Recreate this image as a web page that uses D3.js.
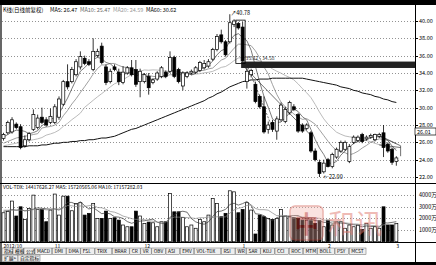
<!DOCTYPE html>
<html>
<head>
<meta charset="utf-8">
<script src="https://cdn.jsdelivr.net/npm/d3@7"></script>
<style>
  html, body { margin: 0; padding: 0; background: #fff; }
  svg { display: block; }
  text { font-family: "Noto Sans CJK SC", "DejaVu Sans", sans-serif; }
</style>
</head>
<body>
<svg id="chart" width="436" height="265"></svg>
<script>
// ---- daily bars (前复权) ----
const opens  = [26.45,27.1,27.2,28.1,27.8,25.6,26.3,27.5,27.7,28.9,28.6,28.3,28.3,28.9,30.4,33.0,33.0,33.8,34.7,35.7,35.3,34.4,36.0,37.1,34.7,33.0,34.7,34.1,32.9,34.0,34.6,34.4,33.0,33.0,33.6,32.9,33.3,33.6,34.1,34.2,35.8,34.4,32.5,33.6,34.0,34.1,34.3,34.6,34.8,35.6,36.7,38.4,37.6,37.6,39.6,39.7,39.3,33.0,33.8,32.7,31.3,30.1,27.5,28.3,27.3,28.6,28.4,29.4,30.1,29.2,28.0,27.6,27.1,25.0,23.7,22.6,24.0,23.2,24.3,25.0,25.2,23.8,26.0,26.2,26.9,26.4,26.6,26.3,26.7,27.1,25.8,25.2,23.8];
const highs  = [27.1,28.5,28.9,28.3,28.1,26.8,27.2,29.8,29.2,30.0,28.9,29.9,30.4,31.3,33.2,35.0,34.7,35.6,36.5,36.0,35.6,38.0,36.8,37.5,35.0,34.5,35.0,34.5,34.8,34.8,35.5,35.5,34.5,34.0,34.0,33.4,34.2,34.8,34.3,36.5,36.0,34.6,34.2,34.2,34.4,34.8,35.4,35.5,35.6,36.9,38.5,39.0,37.8,40.78,40.2,39.9,39.9,34.58,34.5,33.0,31.5,31.3,28.4,28.6,29.0,30.6,30.1,30.8,30.4,29.4,28.2,28.2,27.3,25.3,24.0,24.0,24.2,24.8,25.4,26.2,26.2,25.8,26.8,26.8,27.1,26.8,27.0,27.0,27.1,28.0,26.0,25.4,24.4];
const lows   = [26.2,26.9,27.0,27.5,25.2,25.4,26.1,27.3,27.5,28.1,27.8,28.1,28.1,28.6,30.2,32.1,32.8,33.6,34.4,34.9,34.8,34.2,35.8,35.0,32.6,32.8,34.2,32.6,32.7,33.8,33.6,32.4,31.2,32.8,31.5,32.7,33.1,33.4,33.4,34.0,33.4,32.8,32.0,33.4,33.8,33.9,34.1,34.4,34.6,35.4,36.5,37.4,35.9,37.4,39.3,39.0,35.3,32.2,33.5,30.5,29.9,27.0,27.0,27.2,26.3,28.4,28.2,29.2,29.6,27.1,27.1,27.4,24.8,23.8,22.0,22.4,23.1,23.0,24.1,24.8,25.0,23.6,25.8,26.0,25.9,26.2,26.4,26.1,26.5,24.3,24.8,23.4,23.3];
const closes = [26.9,28.3,28.6,27.7,25.4,26.3,27.0,29.2,28.8,28.3,28.0,29.0,30.1,31.0,33.0,32.4,34.4,35.3,35.9,35.1,35.0,36.5,36.5,35.2,32.9,34.2,34.4,33.0,34.1,34.6,33.8,32.7,34.2,33.8,32.3,33.2,34.0,34.6,33.6,35.8,33.6,33.0,34.0,34.0,34.2,34.6,35.2,35.1,35.3,36.7,38.2,37.6,36.1,39.8,40.0,39.2,35.4,34.2,34.3,30.7,30.1,27.2,28.0,27.5,28.7,30.3,29.8,30.6,29.8,27.3,27.3,28.0,25.0,24.0,22.4,23.6,23.2,24.6,25.2,26.0,26.0,25.5,26.6,26.6,26.1,26.6,26.8,26.9,26.9,25.4,25.0,23.7,24.2];

// moving averages of the close
const ma5  = [26.6,26.9,27.2,27.4,27.38,27.26,27.0,27.12,27.34,27.92,28.26,28.66,28.84,29.28,30.22,31.1,32.18,33.22,34.2,34.62,35.14,35.56,35.8,35.66,35.22,35.06,34.64,33.94,33.72,34.06,33.98,33.64,33.88,33.82,33.36,33.24,33.5,33.58,33.54,34.24,34.32,34.12,34.0,34.08,33.76,33.96,34.4,34.62,34.88,35.38,36.1,36.58,36.78,37.68,38.34,38.54,38.1,37.72,36.62,34.76,32.94,31.3,30.06,28.7,28.3,28.34,28.86,29.38,29.84,29.56,28.96,28.6,27.48,26.32,25.34,24.6,23.64,23.56,23.8,24.52,25.0,25.46,25.86,26.14,26.16,26.28,26.54,26.6,26.66,26.52,26.2,25.58,25.04];
const ma10 = [25.9,26.1,26.3,26.5,26.6,26.7,26.8,26.9,27.0,27.65,27.76,27.83,27.98,28.31,29.07,29.68,30.42,31.03,31.74,32.42,33.12,33.87,34.51,34.93,34.92,35.1,35.1,34.87,34.69,34.64,34.52,34.14,33.91,33.77,33.71,33.61,33.57,33.73,33.68,33.8,33.78,33.81,33.79,33.81,34.0,34.14,34.26,34.31,34.48,34.57,35.03,35.49,35.7,36.28,36.86,37.32,37.34,37.25,37.15,36.55,35.74,34.7,33.89,32.66,31.53,30.64,30.08,29.72,29.27,28.93,28.65,28.73,28.43,28.08,27.45,26.78,26.12,25.52,25.06,24.93,24.8,24.55,24.71,24.97,25.34,25.64,26.0,26.23,26.4,26.34,26.24,26.06,25.82];
const ma20 = [25.6,25.7,25.8,25.9,26.0,26.1,26.2,26.3,26.4,26.55,26.83,26.97,27.14,27.41,27.84,28.19,28.61,28.97,29.37,30.04,30.44,30.85,31.25,31.62,32.0,32.39,32.76,32.95,33.22,33.53,33.82,34.0,34.21,34.35,34.32,34.36,34.34,34.3,34.19,34.22,34.15,33.98,33.85,33.79,33.86,33.88,33.92,34.02,34.08,34.19,34.41,34.65,34.75,35.05,35.43,35.73,35.8,35.78,35.82,35.56,35.39,35.1,34.8,34.47,34.2,33.98,33.71,33.49,33.21,32.74,32.2,31.72,31.16,30.37,29.49,28.71,28.1,27.62,27.17,26.93,26.73,26.64,26.57,26.53,26.4,26.21,26.06,25.88,25.73,25.64,25.52,25.31,25.27];
const ma60 = [25.5,25.5,25.5,25.5,25.5,25.5,25.6,25.6,25.6,25.7,25.7,25.8,25.9,25.9,26.0,26.0,26.1,26.1,26.2,26.2,26.3,26.3,26.4,26.5,26.5,26.6,26.7,26.9,27.1,27.3,27.5,27.6,27.8,28.0,28.2,28.4,28.6,28.8,29.0,29.2,29.4,29.6,29.8,30.0,30.2,30.4,30.6,30.8,31.1,31.3,31.6,31.8,32.1,32.4,32.6,32.8,33.0,33.1,33.2,33.2,33.3,33.3,33.3,33.4,33.4,33.4,33.4,33.4,33.4,33.4,33.4,33.3,33.2,33.1,33.0,32.9,32.8,32.7,32.6,32.4,32.3,32.2,32.0,31.9,31.7,31.6,31.5,31.3,31.2,31.0,30.9,30.7,30.6];

// turnover (万手 ×10)
const volumes = [2480,2600,3480,2200,2990,1910,2850,3990,2770,2770,1710,2710,4080,2280,3900,3900,2650,3280,3340,2280,2430,3280,2000,2000,2620,2000,2050,1850,1430,1280,1280,2620,2200,1570,1680,1620,1280,1710,1710,4140,2560,2560,2080,1280,1430,1150,1910,1710,2280,3710,3280,2140,2430,4360,4270,2480,2770,3340,2710,660,2280,2140,2000,1910,2000,2770,2200,2140,2080,2000,1850,1850,1800,1570,1800,1280,1850,1430,1710,1710,1150,1430,1280,1430,1060,1570,1150,1280,1150,2990,1430,1430,1570];
const volMa5  = [2600,2650,2750,2700,2750,2636,2686,2788,2902,2858,2818,2790,2808,2710,2936,3374,3362,3202,3414,3090,2796,2922,2666,2398,2466,2380,2134,2104,1990,1722,1578,1692,1762,1790,1870,1938,1670,1572,1600,2092,2280,2536,2610,2524,1982,1700,1570,1496,1696,2152,2578,2624,2768,3184,3296,3136,3262,3444,3114,2392,2352,2226,1958,1798,2066,2164,2176,2204,2238,2238,2054,1984,1916,1814,1774,1660,1660,1586,1614,1596,1570,1486,1456,1400,1270,1354,1298,1298,1242,1628,1600,1656,1714];
const volMa10 = [2700,2700,2700,2700,2700,2668,2693,2744,2801,2804,2727,2738,2798,2806,2897,3096,3076,3005,3062,3013,3085,3142,2934,2906,2778,2588,2528,2385,2194,2094,1979,1913,1933,1890,1796,1758,1681,1667,1695,1981,2109,2103,2091,2062,2037,1990,2053,2053,2110,2067,2139,2097,2132,2440,2724,2857,2943,3106,3149,2844,2744,2744,2701,2456,2229,2258,2201,2081,2018,2152,2109,2080,2060,2026,2006,1857,1822,1751,1714,1685,1615,1573,1521,1507,1433,1462,1392,1377,1321,1449,1477,1477,1506];

// axis ticks
const priceTicks  = [40,38,36,34,32,30,28,26,24,22];
const volumeTicks = [4000,3000,2000,1000];
const monthTicks  = [{i:0,label:"2012/10"},{i:12,label:"11"},{i:33,label:"12"},{i:56,label:"1"},{i:76,label:"2"},{i:92,label:"3"}];

// chart markup
const peakIndex = 53, lowIndex = 74;
const gapBand = {from:56, hi:35.32, lo:34.58};
const boxMark = {from:55, to:56, hi:40.1, lo:35.1};
// hand-drawn trend lines: [startIndex, startPrice, endIndex, endPrice, dashed]
const trendLines = [[57, 35.0, 63, 27.6, true], [56, 34.9, 72, 26.8, false],
                    [88, 26.8, 93, 25.6, false], [88, 25.7, 93, 25.4, false], [93, 25.6, 93, 24.4, false]];
const toolButtons = ["指标","模板","公式","MACD","DMI","DMA","FSL","TRIX","BRAR","CR","VR","OBV","ASI","EMV","VOL-TDX","RSI","WR","SAR","KDJ","CCI","ROC","MTM","BOLL","PSY","MCST"];
const watermark = "和讯";

const svg = d3.select("#chart");
const W = 436, H = 265;
const left = 2, axisX = 415;

const n = closes.length;
// bar index -> centre x (linear so trend lines may run past the last bar)
const xc = d3.scaleLinear().domain([0, n - 1]).range([3.5, 3.5 + 4.27 * (n - 1)]);
const bw = 3;
const cx = i => xc(i);
const bx0 = i => xc(i) - bw / 2;
const y = d3.scaleLinear().domain([22, 40]).range([177, 21]);
const yv = d3.scaleLinear().domain([0, 4000]).range([241.7, 195]);

// frame
svg.append("rect").attr("x",0).attr("y",0).attr("width",W).attr("height",5).attr("fill","#000");
svg.append("rect").attr("x",0).attr("y",262).attr("width",W).attr("height",3).attr("fill","#000");
svg.append("line").attr("x1",1).attr("x2",1).attr("y1",5).attr("y2",262).attr("stroke","#000").attr("stroke-width",1.2);
svg.append("line").attr("x1",axisX+0.5).attr("x2",axisX+0.5).attr("y1",5).attr("y2",262).attr("stroke","#000");
svg.append("line").attr("x1",0).attr("x2",W).attr("y1",183.5).attr("y2",183.5).attr("stroke","#000");
svg.append("line").attr("x1",0).attr("x2",W).attr("y1",242.5).attr("y2",242.5).attr("stroke","#000");

// price grid + right axis
const grid = svg.append("g");
priceTicks.forEach(t => {
  grid.append("line").attr("x1",left).attr("x2",axisX).attr("y1",Math.round(y(t))+0.5).attr("y2",Math.round(y(t))+0.5)
    .attr("stroke","#777").attr("stroke-dasharray","1,2").attr("stroke-width",0.8);
  grid.append("line").attr("x1",axisX).attr("x2",axisX+3).attr("y1",Math.round(y(t))+0.5).attr("y2",Math.round(y(t))+0.5).attr("stroke","#000");
  grid.append("text").attr("x",419).attr("y",y(t)+2).attr("font-size",5.5).attr("fill","#000").text(t.toFixed(2));
});
volumeTicks.forEach(t => {
  grid.append("line").attr("x1",left).attr("x2",axisX).attr("y1",Math.round(yv(t))+0.5).attr("y2",Math.round(yv(t))+0.5)
    .attr("stroke","#777").attr("stroke-dasharray","1,2").attr("stroke-width",0.8);
  grid.append("text").attr("x",419).attr("y",yv(t)+2).attr("font-size",5.5).attr("fill","#000").text(t + "万");
});

// moving-average lines
const line = arr => d3.line().x((d,i) => cx(i)).y(d => y(d))(arr);
svg.append("path").attr("d", line(ma20)).attr("fill","none").attr("stroke","#aaa").attr("stroke-width",0.8);
svg.append("path").attr("d", line(ma10)).attr("fill","none").attr("stroke","#888").attr("stroke-width",0.8);
svg.append("path").attr("d", line(ma5)).attr("fill","none").attr("stroke","#444").attr("stroke-width",0.7);
svg.append("path").attr("d", line(ma60)).attr("fill","none").attr("stroke","#111").attr("stroke-width",1);

// trend lines
trendLines.forEach(([i0,p0,i1,p1,dashed]) => {
  svg.append("line").attr("x1",cx(i0)).attr("y1",y(p0)).attr("x2",cx(i1)).attr("y2",y(p1))
    .attr("stroke","#333").attr("stroke-width",0.7).attr("stroke-dasharray", dashed ? "2,1.5" : null);
});

// gap band and marker box
svg.append("rect").attr("x", bx0(gapBand.from)).attr("width", axisX - bx0(gapBand.from))
  .attr("y", y(gapBand.hi)).attr("height", y(gapBand.lo) - y(gapBand.hi)).attr("fill","#222");
svg.append("text").attr("x", cx(gapBand.from)+3).attr("y", y(gapBand.hi)-1.5).attr("font-size",5).attr("fill","#333")
  .text(gapBand.hi.toFixed(2) + " - " + gapBand.lo.toFixed(2));
svg.append("rect").attr("x", bx0(boxMark.from)-1).attr("width", bx0(boxMark.to)+bw+1 - bx0(boxMark.from)+1)
  .attr("y", y(boxMark.hi)).attr("height", y(boxMark.lo)-y(boxMark.hi)).attr("fill","none").attr("stroke","#000").attr("stroke-width",0.8);

// candles
const candles = svg.append("g");
d3.range(n).forEach(i => {
  const up = closes[i] >= opens[i];
  candles.append("line").attr("x1",cx(i)).attr("x2",cx(i))
    .attr("y1",y(highs[i])).attr("y2",y(lows[i])).attr("stroke","#000").attr("stroke-width",0.8);
  const top = y(Math.max(opens[i],closes[i])), bot = y(Math.min(opens[i],closes[i]));
  candles.append("rect").attr("x",bx0(i)).attr("width",bw).attr("y",top).attr("height",Math.max(0.8,bot-top))
    .attr("fill", up ? "#fff" : "#000").attr("stroke","#000").attr("stroke-width",0.7);
});

// peak / low annotations
svg.append("text").attr("x", cx(peakIndex)+1).attr("y", y(highs[peakIndex])+1).attr("font-size",5.5).attr("fill","#000")
  .text("↗" + highs[peakIndex].toFixed(2));
svg.append("text").attr("x", cx(lowIndex)+4).attr("y", y(lows[lowIndex])+2).attr("font-size",5.5).attr("fill","#000")
  .text("←" + lows[lowIndex].toFixed(2));

// last price tag
svg.append("rect").attr("x",axisX).attr("y",128).attr("width",21).attr("height",7).attr("fill","#fff").attr("stroke","#000").attr("stroke-width",0.7);
svg.append("text").attr("x",417).attr("y",133.5).attr("font-size",5.5).text("26.01");

// volume bars
const vol = svg.append("g");
d3.range(n).forEach(i => {
  const up = closes[i] >= opens[i];
  vol.append("rect").attr("x",bx0(i)).attr("width",bw).attr("y",yv(volumes[i])).attr("height",yv(0)-yv(volumes[i]))
    .attr("fill", up ? "#fff" : "#000").attr("stroke","#000").attr("stroke-width",0.7);
});
const vline = arr => d3.line().x((d,i) => cx(i)).y(d => yv(d))(arr);
svg.append("path").attr("d", vline(volMa5)).attr("fill","none").attr("stroke","#333").attr("stroke-width",0.7);
svg.append("path").attr("d", vline(volMa10)).attr("fill","none").attr("stroke","#888").attr("stroke-width",0.7);

// site logo laid over the volume pane
const wm = svg.append("g").attr("opacity",0.5);
wm.append("rect").attr("x",290).attr("y",206).attr("width",33).attr("height",34).attr("rx",5)
  .attr("fill","#f2b2aa").attr("fill-opacity",0.7).attr("stroke","#d86a60").attr("stroke-width",1.5);
wm.append("text").attr("x",306.5).attr("y",233).attr("text-anchor","middle").attr("font-size",24).attr("font-weight","bold").attr("fill","#b8302a").text("中");
wm.append("text").attr("x",328).attr("y",234).attr("font-size",27).attr("fill","#e07a70").text(watermark);

// headers
svg.append("text").attr("x",3).attr("y",12).attr("font-size",5.5).attr("fill","#000").text("K线(日线前复权)");
svg.append("text").attr("x",50).attr("y",12).attr("font-size",5.5).attr("fill","#000").text("MA5: 26.47");
svg.append("text").attr("x",80).attr("y",12).attr("font-size",5.5).attr("fill","#666").text("MA10: 25.47");
svg.append("text").attr("x",113).attr("y",12).attr("font-size",5.5).attr("fill","#999").text("MA20: 24.59");
svg.append("text").attr("x",146).attr("y",12).attr("font-size",5.5).attr("fill","#000").text("MA60: 30.62");
svg.append("text").attr("x",3).attr("y",188.5).attr("font-size",5).attr("fill","#000").text("VOL-TDX: 14417626.27  MA5: 15720565.06  MA10: 17157282.03");

// time axis
monthTicks.forEach(m => {
  svg.append("text").attr("x", cx(m.i)).attr("y", 247.5).attr("font-size",5).attr("fill","#000").text(m.label);
});

// tool buttons
let bx = 2;
toolButtons.forEach(b => {
  const w = b.length * 3.2 + 4;
  svg.append("rect").attr("x",bx).attr("y",248).attr("width",w).attr("height",6.5).attr("fill","#eee").attr("stroke","#666").attr("stroke-width",0.5);
  svg.append("text").attr("x",bx+2).attr("y",253.2).attr("font-size",4.8).attr("fill","#000").text(b);
  bx += w + 0.6;
});
[["扩展>",2,16],["自定指标",18,22]].forEach(([t,px,w]) => {
  svg.append("rect").attr("x",px).attr("y",255).attr("width",w).attr("height",6.5).attr("fill","#eee").attr("stroke","#666").attr("stroke-width",0.5);
  svg.append("text").attr("x",px+2).attr("y",260.2).attr("font-size",4.8).text(t);
});
</script>
</body>
</html>
